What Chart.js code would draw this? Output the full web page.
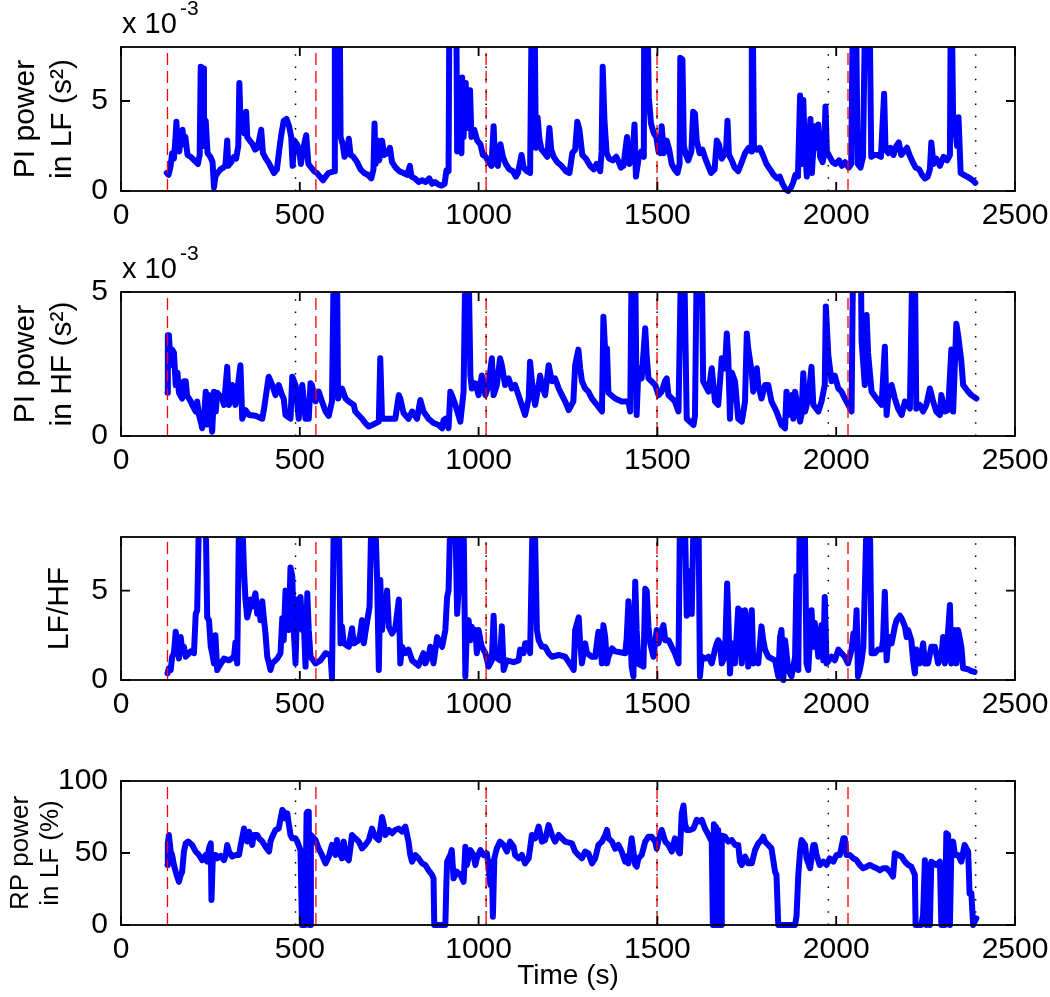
<!DOCTYPE html>
<html>
<head>
<meta charset="utf-8">
<script src="https://cdn.jsdelivr.net/npm/chart.js@4.4.1/dist/chart.umd.min.js"></script>
<style>
  html, body { margin: 0; padding: 0; background: #fff; }
  #wrap { position: relative; width: 1050px; height: 997px; overflow: hidden; }
  #wrap canvas { position: absolute; left: 0; }
  .exp { position: absolute; font-family: "Liberation Sans", Arial, sans-serif; color: #000; white-space: nowrap; line-height: 1; }
  .exp .base { font-size: 29px; }
  .exp .sup { font-size: 21px; position: absolute; left: 58px; top: -12px; }
</style>
</head>
<body>
<div id="wrap">
  <canvas id="c1" width="1050" height="245" style="top:0px"></canvas>
  <canvas id="c2" width="1050" height="245" style="top:245px"></canvas>
  <canvas id="c3" width="1050" height="245" style="top:490px"></canvas>
  <canvas id="c4" width="1050" height="262" style="top:735px"></canvas>
  <div class="exp" style="left:122px; top:9px;"><span class="base">x 10</span><span class="sup">-3</span></div>
  <div class="exp" style="left:122px; top:254px;"><span class="base">x 10</span><span class="sup">-3</span></div>
</div>
<script>
// ---------- data ----------
const xTicks = [0, 500, 1000, 1500, 2000, 2500];
const redLines = [130, 545, 1021, 1499, 2033];     // dashed red markers (s)
const blackLines = [488, 1021, 1499, 1978, 2390];  // dotted black markers (s)

// PI power in LF, units of 1e-3 s^2 ; [time, value]
const lfPower = [[128,1.0],[133,0.9],[138,1.3],[143,2.1],[148,1.8],[152,2.8],[155,3.85],[158,2.5],[163,2.2],[167,2.8],[172,3.4],[176,2.6],[180,3.0],[186,2.0],[195,1.9],[205,1.7],[215,1.5],[220,2.0],[223,6.9],[230,6.8],[232,2.5],[237,3.9],[242,2.1],[250,1.9],[256,1.6],[260,0.2],[264,0.8],[270,1.0],[278,1.2],[286,1.3],[292,1.4],[297,2.8],[300,1.4],[308,1.6],[316,1.9],[322,1.8],[328,2.5],[331,6.0],[334,4.0],[340,3.9],[345,3.2],[350,4.4],[353,3.0],[360,2.8],[368,2.6],[375,2.3],[382,2.4],[392,3.4],[397,2.1],[405,1.8],[412,1.6],[420,1.3],[428,1.0],[436,1.2],[442,2.2],[448,3.1],[455,3.9],[463,4.0],[470,3.6],[476,3.0],[480,1.4],[485,2.8],[492,2.6],[498,2.3],[503,1.5],[510,2.4],[518,3.1],[524,1.5],[532,1.3],[540,1.1],[548,1.0],[556,0.8],[565,0.6],[572,0.8],[580,1.0],[590,1.06],[597,1.1],[598,9],[612,9],[614,3.0],[620,2.6],[625,1.9],[632,2.2],[637,2.9],[642,2.0],[650,1.9],[660,1.6],[670,1.2],[680,1.0],[690,0.9],[700,0.7],[706,1.2],[709,3.75],[712,1.5],[718,2.8],[722,1.7],[730,2.8],[736,2.0],[745,2.1],[752,2.4],[758,1.6],[768,1.3],[778,1.1],[790,1.0],[800,0.9],[808,1.4],[812,0.8],[822,0.7],[832,0.5],[842,0.6],[852,0.5],[862,0.7],[870,0.4],[878,0.5],[888,0.35],[896,0.3],[905,0.4],[910,1.15],[916,1.1],[918,9],[938,9],[940,2.2],[946,2.8],[952,2.1],[954,6.3],[958,3.0],[964,6.0],[968,3.5],[976,5.6],[980,3.0],[988,3.4],[996,2.8],[1005,2.6],[1012,2.0],[1020,1.9],[1028,1.6],[1036,1.4],[1042,3.6],[1046,1.6],[1054,1.4],[1061,2.6],[1068,1.9],[1076,1.5],[1086,1.2],[1096,1.1],[1104,0.8],[1110,1.0],[1120,2.0],[1126,1.3],[1135,1.1],[1144,1.0],[1148,9],[1157,9],[1160,2.4],[1165,4.1],[1170,2.9],[1176,2.3],[1185,2.1],[1192,1.9],[1198,3.5],[1203,2.3],[1210,1.9],[1220,1.6],[1232,1.4],[1244,1.1],[1254,1.0],[1262,2.1],[1270,2.3],[1276,3.85],[1282,3.4],[1290,2.0],[1300,1.8],[1312,1.4],[1322,1.2],[1330,1.5],[1340,1.1],[1344,2.2],[1347,6.9],[1352,3.9],[1358,2.1],[1365,1.8],[1375,1.7],[1385,1.9],[1392,1.6],[1398,1.3],[1405,1.4],[1415,3.0],[1422,1.5],[1430,1.9],[1436,3.7],[1440,0.8],[1448,1.9],[1455,2.2],[1462,1.9],[1463,9],[1473,9],[1476,5.2],[1482,3.75],[1490,3.2],[1497,3.0],[1503,2.2],[1508,2.1],[1512,3.6],[1518,2.1],[1526,2.8],[1533,2.3],[1540,1.5],[1548,1.2],[1556,1.0],[1562,1.5],[1564,7.4],[1570,7.3],[1574,2.5],[1580,2.0],[1586,1.7],[1595,2.2],[1600,4.4],[1605,4.3],[1610,2.8],[1618,2.1],[1626,2.3],[1634,1.8],[1642,1.4],[1650,1.0],[1660,1.2],[1666,2.8],[1672,2.6],[1680,1.8],[1686,2.0],[1692,2.3],[1696,3.9],[1700,2.0],[1708,1.7],[1716,1.3],[1726,1.1],[1734,1.5],[1745,2.1],[1755,2.4],[1762,2.2],[1764,9],[1767,9],[1770,2.4],[1778,2.3],[1786,2.4],[1795,2.0],[1805,1.5],[1815,1.2],[1825,0.9],[1835,0.7],[1842,0.8],[1850,0.4],[1858,0.1],[1866,0],[1874,0.2],[1880,0.5],[1886,0.9],[1893,0.8],[1899,5.3],[1903,1.5],[1908,5.05],[1912,2.5],[1918,0.8],[1922,2.0],[1928,4.0],[1932,1.0],[1940,3.6],[1945,2.4],[1950,3.7],[1955,1.9],[1962,1.6],[1966,2.0],[1970,4.7],[1974,2.2],[1982,1.9],[1990,1.6],[1998,1.5],[2008,1.7],[2016,1.4],[2025,1.6],[2035,1.3],[2042,1.5],[2046,9],[2056,9],[2060,1.5],[2068,1.3],[2075,1.9],[2080,9],[2094,9],[2098,1.9],[2105,2.0],[2115,2.0],[2125,1.9],[2134,5.4],[2138,2.3],[2146,2.1],[2152,2.4],[2160,2.0],[2168,2.5],[2175,2.7],[2182,2.0],[2190,2.2],[2198,2.4],[2205,2.0],[2214,1.6],[2222,1.3],[2232,1.2],[2240,0.9],[2248,0.7],[2256,0.8],[2262,1.2],[2266,2.7],[2272,1.5],[2280,1.8],[2290,1.4],[2300,1.9],[2310,1.7],[2318,2.0],[2320,9],[2324,9],[2327,3.9],[2332,3.6],[2338,2.5],[2342,4.1],[2348,1.0],[2356,0.9],[2366,0.8],[2374,0.7],[2382,0.6],[2389,0.45]];

// PI power in HF, units of 1e-3 s^2
const hfPower = [[130,1.5],[131,3.5],[134,3.5],[139,2.46],[143,3.0],[148,2.9],[153,1.77],[158,2.2],[162,1.5],[171,1.3],[176,1.9],[181,1.9],[185,1.4],[195,1.2],[199,1.08],[209,0.85],[213,1.2],[218,0.73],[223,0.5],[227,0.27],[232,0.6],[237,1.54],[241,0.4],[246,1.42],[251,0.6],[255,0.15],[260,1.54],[265,0.85],[269,1.5],[283,1.3],[288,1.08],[297,2.4],[302,1.08],[311,1.77],[320,1.08],[334,2.46],[339,0.6],[348,0.9],[358,0.73],[376,0.7],[395,0.6],[400,0.95],[413,2.06],[423,1.77],[432,1.42],[441,1.77],[451,1.4],[455,1.3],[460,0.73],[474,0.6],[479,2.06],[488,1.77],[497,0.6],[502,1.5],[507,1.77],[516,0.6],[525,0.6],[530,1.83],[534,1.77],[544,1.2],[553,1.54],[562,1.2],[572,0.85],[581,0.7],[590,1.2],[595,6],[604,6],[607,1.3],[618,1.65],[628,1.3],[637,1.2],[651,1.08],[655,0.85],[674,0.6],[683,0.45],[693,0.33],[702,0.38],[721,0.5],[725,2.7],[730,0.6],[767,0.6],[777,1.42],[781,1.3],[790,0.8],[804,0.6],[814,0.85],[828,0.6],[837,1.25],[846,0.85],[860,0.6],[874,0.45],[888,0.38],[898,0.27],[902,0.55],[907,0.6],[916,0.27],[921,1.54],[925,1.42],[935,1.08],[949,0.5],[958,1.54],[963,6],[972,6],[977,2.1],[981,1.65],[991,1.83],[1000,1.42],[1009,2.1],[1014,1.9],[1019,1.42],[1028,1.77],[1037,2.7],[1042,1.42],[1051,1.77],[1060,2.7],[1065,2.46],[1074,1.77],[1084,2.0],[1093,1.65],[1102,1.77],[1116,1.25],[1130,0.73],[1140,1.3],[1144,2.58],[1149,1.9],[1158,1.08],[1168,1.77],[1172,2.1],[1177,1.77],[1186,1.42],[1196,2.46],[1205,1.9],[1214,2.0],[1224,1.65],[1233,1.42],[1242,1.2],[1252,0.9],[1265,1.2],[1270,2.46],[1279,3.0],[1284,2.35],[1289,1.9],[1298,1.65],[1307,1.54],[1317,1.3],[1331,1.08],[1345,0.85],[1349,4.14],[1354,2.93],[1359,3.04],[1363,1.5],[1382,1.3],[1400,1.2],[1419,1.2],[1424,0.85],[1428,6],[1438,6],[1442,0.73],[1447,2.35],[1456,2.0],[1466,3.74],[1470,2.8],[1475,2.0],[1494,1.77],[1503,1.42],[1512,1.54],[1521,1.9],[1526,2.0],[1531,1.42],[1549,1.2],[1559,0.85],[1566,6],[1575,6],[1582,0.6],[1601,0.38],[1605,0.7],[1610,6],[1624,6],[1628,1.9],[1643,1.54],[1652,2.35],[1661,1.2],[1670,1.08],[1680,2.7],[1689,2.35],[1694,3.56],[1698,2.8],[1703,0.6],[1708,2.2],[1717,1.9],[1726,0.6],[1736,0.5],[1745,1.2],[1750,3.56],[1754,3.04],[1764,2.2],[1768,1.54],[1778,2.35],[1782,1.77],[1791,1.3],[1801,1.77],[1810,1.77],[1819,1.2],[1833,0.85],[1847,0.38],[1857,0.27],[1861,1.54],[1866,0.73],[1875,1.42],[1880,0.6],[1885,1.54],[1894,0.85],[1899,0.5],[1903,0.73],[1908,2.18],[1913,0.85],[1922,1.3],[1931,2.4],[1936,1.08],[1950,0.85],[1959,1.2],[1968,1.77],[1971,4.5],[1978,2.8],[1987,1.9],[1996,2.1],[2006,1.65],[2015,1.54],[2024,1.3],[2034,1.08],[2043,0.85],[2047,6],[2069,6],[2071,3.3],[2080,1.77],[2085,4.2],[2089,2.9],[2099,1.54],[2113,1.3],[2127,1.08],[2136,3.1],[2141,0.73],[2145,1.3],[2155,1.77],[2164,1.3],[2173,0.95],[2183,0.73],[2192,1.2],[2206,0.95],[2213,6],[2220,6],[2224,0.95],[2234,1.08],[2243,0.85],[2252,1.08],[2262,1.65],[2271,1.2],[2280,0.85],[2290,0.73],[2294,1.42],[2304,0.85],[2313,0.9],[2322,3.0],[2327,0.85],[2336,3.9],[2341,3.5],[2350,2.58],[2355,1.77],[2369,1.54],[2378,1.42],[2392,1.3]];

// LF/HF ratio
const lfhfRatio = [[130,0.37],[134,0.65],[139,0.56],[143,1.3],[148,1.5],[153,2.7],[157,1.86],[162,1.2],[167,2.4],[171,1.68],[176,1.86],[181,1.3],[195,1.6],[204,1.5],[209,3.7],[213,3.9],[218,9],[237,9],[241,3.5],[246,3.35],[251,1.86],[255,1.5],[260,0.93],[264,2.5],[269,0.56],[274,0.75],[288,1.2],[302,1.1],[316,1.3],[320,2.1],[325,0.93],[330,9],[339,9],[344,6.1],[348,4.5],[353,3.5],[358,3.9],[362,4.5],[367,4.1],[376,4.85],[381,3.7],[386,4.2],[390,3.35],[395,4.4],[400,3.35],[404,2.6],[409,1.3],[414,0.93],[418,0.56],[423,0.93],[437,1.2],[446,1.5],[451,3.45],[455,2.23],[460,5.0],[465,4.65],[469,2.8],[474,6.3],[479,5.8],[483,2.8],[488,0.93],[493,4.5],[497,3.2],[502,4.65],[507,2.8],[511,3.35],[516,0.75],[521,4.85],[525,2.8],[530,1.3],[544,0.93],[558,1.1],[572,1.5],[586,1.4],[590,0.1],[595,9],[609,9],[614,2.05],[618,3.0],[623,2.05],[637,1.86],[646,2.9],[651,2.05],[665,2.23],[669,2.6],[674,3.35],[679,2.05],[683,2.6],[695,4.1],[700,9],[711,9],[716,5.8],[721,0.56],[725,5.6],[730,2.8],[735,4.5],[739,3.35],[744,5.0],[749,2.98],[758,2.6],[767,2.9],[777,4.5],[781,0.93],[786,1.86],[795,1.5],[804,1.7],[814,1.1],[832,0.8],[846,1.5],[851,0.93],[860,1.3],[865,1.86],[874,0.93],[884,2.4],[888,2.23],[898,1.86],[907,2.8],[912,4.65],[916,5.0],[921,9],[935,9],[940,3.7],[944,5.0],[949,9],[958,9],[963,0.2],[967,2.8],[972,3.35],[977,2.23],[981,2.98],[986,2.42],[991,2.8],[995,1.5],[1000,2.8],[1005,2.23],[1009,1.86],[1019,1.5],[1028,0.75],[1037,1.1],[1042,3.6],[1046,1.3],[1060,1.1],[1065,3.0],[1070,0.56],[1079,1.1],[1098,1.0],[1112,1.1],[1116,1.7],[1126,1.5],[1130,2.05],[1140,2.05],[1144,1.5],[1151,9],[1157,9],[1163,2.8],[1168,2.23],[1177,1.86],[1186,1.86],[1196,1.5],[1205,1.3],[1224,1.4],[1242,1.3],[1252,1.0],[1266,0.56],[1270,2.8],[1280,3.5],[1284,2.05],[1289,0.93],[1298,2.05],[1303,1.5],[1317,1.3],[1326,1.3],[1335,2.7],[1340,2.05],[1345,0.93],[1349,3.07],[1354,2.4],[1359,0.93],[1363,1.3],[1373,1.77],[1382,1.6],[1410,1.5],[1414,2.3],[1419,4.4],[1424,2.8],[1428,0.75],[1433,0.2],[1438,5.5],[1442,2.8],[1447,0.9],[1461,0.75],[1466,5.1],[1470,5.0],[1475,2.98],[1480,2.05],[1489,1.3],[1498,2.8],[1503,2.05],[1512,2.8],[1517,3.07],[1522,2.23],[1531,2.23],[1540,1.86],[1549,1.5],[1559,0.93],[1563,9],[1577,9],[1582,3.6],[1587,4.85],[1591,6.1],[1596,3.7],[1601,9],[1615,9],[1619,0.2],[1624,1.3],[1634,1.2],[1643,1.3],[1652,0.93],[1661,1.7],[1666,2.05],[1670,2.23],[1675,2.05],[1680,0.93],[1689,1.3],[1695,5.4],[1698,3.7],[1703,0.37],[1708,2.05],[1717,0.93],[1726,4.0],[1731,3.9],[1736,0.93],[1745,3.9],[1750,3.2],[1754,0.75],[1764,3.9],[1768,0.93],[1773,1.3],[1782,0.93],[1791,3.0],[1796,2.23],[1801,1.7],[1810,1.3],[1829,1.1],[1838,0.2],[1843,2.4],[1847,2.8],[1852,0],[1857,2.23],[1866,0.56],[1875,0.2],[1885,1.3],[1889,5.8],[1894,0.56],[1898,9],[1912,9],[1917,0.93],[1922,0.56],[1931,3.9],[1936,1.86],[1940,3.2],[1950,1.3],[1959,3.07],[1964,1.1],[1968,4.65],[1973,0.93],[1987,1.3],[1996,1.1],[2006,1.7],[2015,1.5],[2024,1.3],[2033,0.93],[2043,1.7],[2048,2.6],[2052,1.86],[2057,3.9],[2061,0.2],[2066,0.56],[2071,1.1],[2076,1.86],[2085,9],[2094,9],[2099,1.5],[2108,1.5],[2117,1.7],[2127,1.7],[2131,2.23],[2136,4.93],[2141,1.1],[2145,2.05],[2150,2.4],[2155,2.05],[2164,3.0],[2169,3.35],[2178,3.6],[2183,3.45],[2192,3.0],[2197,2.4],[2201,2.8],[2210,2.23],[2215,1.1],[2220,0.37],[2224,1.7],[2234,0.93],[2243,2.05],[2248,0.93],[2257,0.93],[2266,1.86],[2276,1.86],[2285,0.93],[2294,1.3],[2299,2.4],[2304,0.93],[2308,1.3],[2318,4.2],[2322,0.93],[2332,2.8],[2336,0.93],[2341,2.8],[2350,1.86],[2355,0.65],[2369,0.6],[2378,0.5],[2387,0.45]];

// RP power in LF, percent
const rpPercent = [[130,41.7],[131,56.7],[134,62.5],[139,51],[143,48.6],[148,41.7],[153,37],[157,33.6],[162,30],[167,34.7],[171,37],[176,51],[181,56.7],[188,58],[199,55.6],[204,53.2],[209,51],[218,48.6],[227,45],[237,48.6],[241,44],[246,53.2],[251,56.7],[253,17.4],[257,48.6],[265,48.6],[269,46.3],[279,48],[288,45],[293,48.6],[297,55.6],[302,51],[311,47.5],[321,48.6],[330,48.6],[334,54.4],[344,67],[348,62.5],[353,58],[358,64.8],[367,55.6],[371,62.5],[381,62.5],[386,60.2],[395,58],[404,54.4],[414,51],[418,57.9],[423,61.3],[432,66],[441,67],[451,79.9],[455,78.7],[460,74],[465,77.5],[469,70.6],[474,62.5],[479,60.2],[488,60.2],[493,57.9],[502,52],[506,0],[515,0],[519,77.5],[522,78.7],[525,78.7],[527,0],[529,0],[531,62.5],[544,59],[553,53],[562,48.6],[572,42.8],[581,47.5],[590,55.6],[600,48.6],[604,59],[609,52],[618,46.3],[623,57.9],[628,47.5],[637,45],[646,62.5],[655,60.2],[665,57.9],[674,53.2],[683,55.6],[693,59],[702,67],[711,61.3],[721,59],[730,75],[735,69.4],[739,62.5],[749,66],[758,63.7],[767,66],[777,67],[786,64.8],[795,68.3],[800,62.5],[804,57.9],[809,48.6],[814,44],[823,48.6],[832,46.3],[842,42.8],[851,41.7],[860,38],[870,34.7],[874,32.4],[876,0],[907,0],[910,30],[912,44],[916,46.3],[921,48.6],[925,52],[930,32.4],[939,37],[949,34.7],[958,30],[963,54.4],[967,41.7],[977,52],[986,48.6],[991,41.7],[995,46.3],[1005,52],[1014,48.6],[1023,49.8],[1028,40.5],[1033,27.8],[1037,44],[1040,5.8],[1044,46.3],[1051,53.2],[1060,57.9],[1070,55.6],[1079,51],[1088,57.9],[1098,54.4],[1102,48.6],[1112,46.3],[1121,48.6],[1130,42.8],[1140,46.3],[1144,53.2],[1149,62.5],[1158,60.2],[1168,68.3],[1177,57.9],[1186,59],[1196,69.4],[1205,62.5],[1214,57.9],[1224,62.5],[1233,60.2],[1242,57.9],[1261,56.7],[1270,51],[1279,48.6],[1289,46.3],[1298,51],[1307,49.8],[1317,42.8],[1326,46.3],[1335,55.6],[1345,57.9],[1354,62.5],[1359,66],[1363,60.2],[1373,57.9],[1382,53],[1391,55.6],[1400,51],[1410,44],[1414,47.5],[1419,42.8],[1428,60.2],[1433,51],[1438,41.7],[1442,40.5],[1447,46.3],[1456,48.6],[1466,57.9],[1475,61.3],[1484,61.3],[1494,57.9],[1498,53],[1503,59],[1512,66],[1522,57.9],[1531,55.6],[1540,51],[1549,60.2],[1559,51],[1563,49.8],[1568,77.5],[1573,83],[1577,70.6],[1582,66],[1591,66],[1601,67],[1610,73],[1619,71.8],[1624,73],[1633,67],[1643,62.5],[1652,57.9],[1655,0],[1658,70],[1661,0],[1664,68],[1667,0],[1670,66],[1673,0],[1676,60],[1678,0],[1680,62],[1689,61.3],[1698,57.9],[1708,59],[1717,55.6],[1726,55.6],[1731,44],[1736,41.7],[1745,47.5],[1754,42.8],[1764,42.8],[1773,52],[1782,56.7],[1791,59],[1796,61.3],[1801,57.9],[1810,55.6],[1819,53.2],[1829,37],[1833,34.7],[1838,0],[1885,0],[1889,6],[1894,34.7],[1899,51],[1903,59],[1913,55.6],[1917,46.3],[1927,39.4],[1936,55.6],[1940,55.6],[1945,48.6],[1954,41.7],[1964,44],[1973,41.7],[1982,46.3],[1992,44],[2001,48.6],[2010,48.6],[2020,60.2],[2024,60.2],[2029,48.6],[2038,48.6],[2048,46.3],[2057,45],[2066,41.7],[2075,39.4],[2085,40.5],[2094,41.7],[2103,40.5],[2113,39.4],[2122,38],[2131,39.4],[2141,39.4],[2150,37],[2159,33.6],[2164,49.8],[2173,48.6],[2183,47.5],[2192,44],[2201,41.7],[2210,40.5],[2220,34.7],[2222,0],[2238,0],[2243,7],[2248,45],[2252,0],[2257,41.7],[2262,0],[2266,44],[2280,41.7],[2290,44],[2294,0],[2304,0],[2308,63.7],[2313,62.5],[2318,0],[2322,53],[2327,57.9],[2332,48.6],[2341,48.6],[2350,44],[2359,55.6],[2369,51],[2373,22],[2378,22],[2383,0],[2387,2.3],[2392,4.6]];

// ---------- drawing ----------
const FONT = '"Liberation Sans", Arial, Helvetica, sans-serif';

// axes box with inward ticks on all four sides, drawn over the data like MATLAB
const boxPlugin = {
  id: 'matlabBox',
  afterDatasetsDraw(chart) {
    const { ctx, chartArea: a, scales: { x, y } } = chart;
    const len = 9;
    ctx.save();
    ctx.strokeStyle = '#000';
    ctx.lineWidth = 1.8;
    ctx.strokeRect(a.left, a.top, a.right - a.left, a.bottom - a.top);
    ctx.beginPath();
    x.ticks.forEach(t => {
      const px = x.getPixelForValue(t.value);
      ctx.moveTo(px, a.bottom); ctx.lineTo(px, a.bottom - len);
      ctx.moveTo(px, a.top); ctx.lineTo(px, a.top + len);
    });
    y.ticks.forEach(t => {
      const py = y.getPixelForValue(t.value);
      ctx.moveTo(a.left, py); ctx.lineTo(a.left + len, py);
      ctx.moveTo(a.right, py); ctx.lineTo(a.right - len, py);
    });
    ctx.stroke();
    ctx.restore();
  }
};

function markerSets(yMax) {
  const red = redLines.map(t => ({
    data: [{ x: t, y: 0 }, { x: t, y: yMax }],
    borderColor: '#ff0000', borderWidth: 1.3, borderDash: [12, 6],
    pointRadius: 0, order: 1
  }));
  const black = blackLines.map(t => ({
    data: [{ x: t, y: 0 }, { x: t, y: yMax }],
    borderColor: '#000', borderWidth: 1.5, borderDash: [1.5, 10.8],
    pointRadius: 0, order: 0
  }));
  return red.concat(black);
}

function makePanel(p) {
  const canvas = document.getElementById(p.id);
  const H = canvas.height;
  const xAxisH = H - p.plotBottom;
  const series = {
    data: p.series.map(d => ({ x: d[0], y: d[1] })),
    borderColor: '#0000ff', borderWidth: 6,
    borderJoinStyle: 'round', borderCapStyle: 'round',
    pointRadius: 0, tension: 0, order: 2,
    clip: { left: 4, right: 4, top: 0, bottom: 3 }
  };
  new Chart(canvas, {
    type: 'line',
    data: { datasets: [series].concat(markerSets(p.yMax)) },
    plugins: [boxPlugin],
    options: {
      responsive: false, animation: false, devicePixelRatio: 1, events: [],
      layout: { padding: { left: 0, right: 35, top: p.plotTop, bottom: 0 } },
      plugins: { legend: { display: false }, tooltip: { enabled: false } },
      scales: {
        x: {
          type: 'linear', min: 0, max: 2500,
          grid: { display: false, drawTicks: false }, border: { display: false },
          afterBuildTicks: s => { s.ticks = xTicks.map(v => ({ value: v })); },
          afterFit: s => { s.height = xAxisH; s.paddingLeft = 0; s.paddingRight = 0; },
          ticks: { color: '#000', padding: 7, maxRotation: 0, font: { family: FONT, size: 30 }, callback: v => String(v) },
          title: p.xTitle ? { display: true, text: p.xTitle, color: '#000', font: { family: FONT, size: 28 }, padding: { top: 4, bottom: 4 } } : { display: false }
        },
        y: {
          type: 'linear', min: 0, max: p.yMax,
          grid: { display: false, drawTicks: false }, border: { display: false },
          afterBuildTicks: s => { s.ticks = p.yTicks.map(v => ({ value: v })); },
          afterFit: s => { s.width = 121; s.paddingTop = 0; s.paddingBottom = 0; },
          ticks: { color: '#000', padding: 13, font: { family: FONT, size: 30 }, callback: v => String(v) },
          title: {
            display: true, text: p.yTitle, color: '#000',
            font: { family: FONT, size: p.titleSize, lineHeight: p.titleLine / p.titleSize },
            padding: { top: p.titlePad, bottom: 0 }
          }
        }
      }
    }
  });
}

makePanel({ id: 'c1', plotTop: 47, plotBottom: 191, yMax: 8, yTicks: [0, 5], series: lfPower,
  yTitle: ['PI power', 'in LF (s²)'], titleSize: 30, titleLine: 37, titlePad: 7 });
makePanel({ id: 'c2', plotTop: 47, plotBottom: 191, yMax: 5, yTicks: [0, 5], series: hfPower,
  yTitle: ['PI power', 'in HF (s²)'], titleSize: 30, titleLine: 37, titlePad: 7 });
makePanel({ id: 'c3', plotTop: 47, plotBottom: 190, yMax: 8, yTicks: [0, 5], series: lfhfRatio,
  yTitle: 'LF/HF', titleSize: 30, titleLine: 37, titlePad: 41 });
makePanel({ id: 'c4', plotTop: 46, plotBottom: 190, yMax: 100, yTicks: [0, 50, 100], series: rpPercent,
  yTitle: ['RP power', 'in LF (%)'], titleSize: 26, titleLine: 30, titlePad: 6, xTitle: 'Time (s)' });
</script>
</body>
</html>
